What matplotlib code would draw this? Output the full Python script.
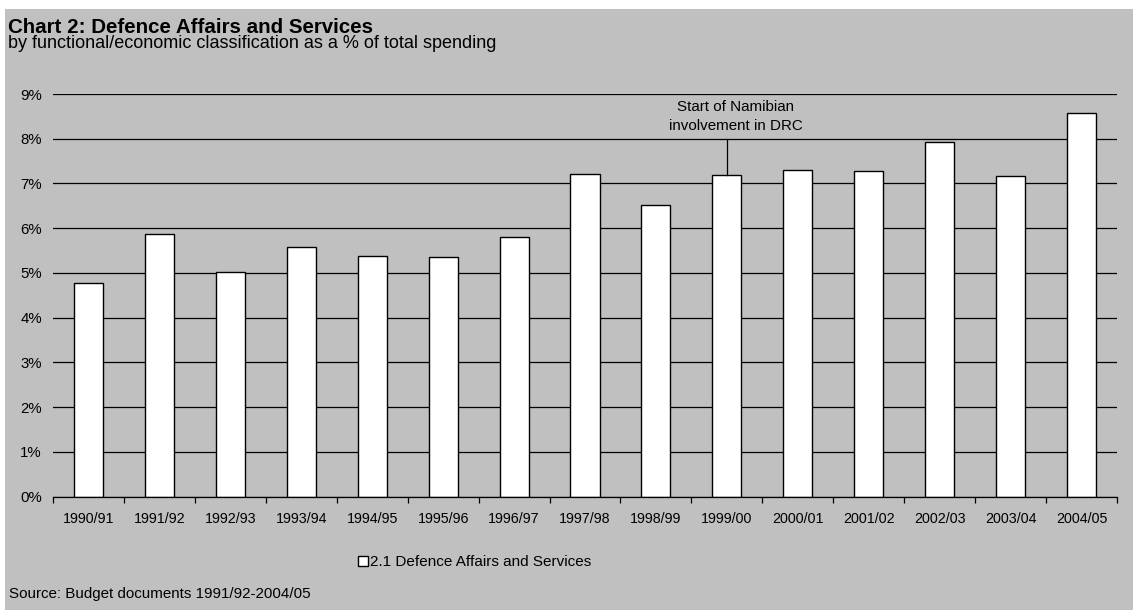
import numpy as np
import matplotlib.pyplot as plt
from matplotlib.patches import Rectangle

plt.rcParams['font.family'] = ['Liberation Sans', 'DejaVu Sans']

# Gasto en defensa como % del gasto total
years = ["1990/91", "1991/92", "1992/93", "1993/94", "1994/95", "1995/96",
         "1996/97", "1997/98", "1998/99", "1999/00", "2000/01", "2001/02",
         "2002/03", "2003/04", "2004/05"]
defence_pct = [4.77, 5.88, 5.01, 5.57, 5.37, 5.35, 5.80, 7.21, 6.51,
               7.19, 7.29, 7.28, 7.92, 7.16, 8.57]
y_ticks = [0, 1, 2, 3, 4, 5, 6, 7, 8, 9]

BG = "#c0c0c0"
W, H = 1133, 610


def fx(px):
    return px / W


def fy(py):
    return 1 - py / H


fig = plt.figure(figsize=(W / 100, H / 100), dpi=100, facecolor="white")
# panel gris (deja un margen blanco arriba y a la izquierda)
fig.patches.append(Rectangle((fx(5), 0), 1 - fx(5), fy(9), transform=fig.transFigure,
                             facecolor=BG, edgecolor="none", zorder=-10))

ax = fig.add_axes([fx(53), fy(496.5), fx(1117 - 53), (496.5 - 94) / H])
ax.set_facecolor(BG)

x = np.arange(len(years))
ax.bar(x, defence_pct, width=0.41, color="white", edgecolor="black",
       linewidth=1.0, zorder=3)

ax.set_xlim(-0.5, len(years) - 0.5)
ax.set_ylim(0, 9)
ax.set_yticks(y_ticks)
ax.set_yticklabels([f"{v}%" for v in y_ticks], fontsize=10.8)
ax.yaxis.grid(True, color="black", linewidth=0.9, zorder=1)
ax.tick_params(axis="y", length=0, pad=8)

# etiquetas centradas, ticks en los bordes de categoría
ax.set_xticks(x)
ax.set_xticklabels(years, fontsize=10.3)
ax.set_xticks(np.arange(-0.5, len(years)), minor=True)
ax.tick_params(axis="x", which="major", length=0, pad=11)
ax.tick_params(axis="x", which="minor", length=4, width=0.9, color="black")

for side in ["top", "right", "left"]:
    ax.spines[side].set_visible(False)
ax.spines["bottom"].set_linewidth(0.9)
ax.spines["bottom"].set_zorder(4)

# anotación DRC: línea vertical desde la rejilla del 8% hasta la barra
i_drc = years.index("1999/00")
ax.plot([i_drc, i_drc], [8.0, defence_pct[i_drc]], color="black",
        linewidth=0.9, zorder=5)
ax.text(i_drc + 0.12, 8.61, "Start of Namibian", ha="center",
        va="baseline", fontsize=10.9, zorder=5)
ax.text(i_drc + 0.12, 8.19, "involvement in DRC", ha="center",
        va="baseline", fontsize=10.9, zorder=5)

# títulos
fig.text(fx(8), fy(33), "Chart 2: Defence Affairs and Services",
         fontsize=14.8, fontweight="bold", va="baseline", ha="left")
fig.text(fx(8), fy(48),
         "by functional/economic classification as a % of total spending",
         fontsize=13, va="baseline", ha="left")

# leyenda
fig.patches.append(Rectangle((fx(357.5), fy(565.7)), 10 / W, 10 / H,
                             transform=fig.transFigure, facecolor="white",
                             edgecolor="black", linewidth=1.0))
fig.text(fx(370.5), fy(566), "2.1 Defence Affairs and Services",
         fontsize=11, va="baseline", ha="left")

fig.text(fx(9), fy(598.3), "Source: Budget documents 1991/92-2004/05",
         fontsize=10.9, va="baseline", ha="left")

fig.savefig("out.png", dpi=100, facecolor="white")
